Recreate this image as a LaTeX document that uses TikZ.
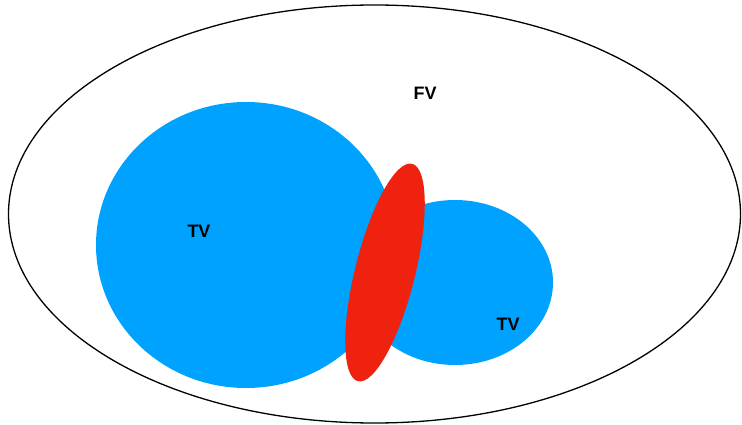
\documentclass[tikz,border=0pt]{standalone}
\usepackage{fontspec}
\setmainfont{Liberation Sans}
\definecolor{tvblue}{RGB}{0,162,255}
\definecolor{redzone}{RGB}{238,34,14}
\begin{document}
\begin{tikzpicture}[x=1pt,y=-1pt,
  lbl/.style={font=\fontsize{18}{21}\selectfont\bfseries, text=black, inner sep=0pt},
  blob/.style={draw=none}]
\useasboundingbox[fill=white] (0,0) rectangle (742,425);
\draw[line width=1.3pt, black] (374.5,214) ellipse [x radius=366, y radius=209];
\fill[tvblue] (246,245) ellipse [x radius=150, y radius=143];
\fill[tvblue] (455,282.5) ellipse [x radius=98, y radius=82.5];
\fill[redzone, rotate around={76:(385,272.5)}] (385,272.5) ellipse [x radius=112, y radius=30];
\node[lbl] (fv) at (425,93) {FV};
\node[lbl] (tv1) at (199,231) {TV};
\node[lbl] (tv2) at (508,324) {TV};
\end{tikzpicture}
\end{document}
